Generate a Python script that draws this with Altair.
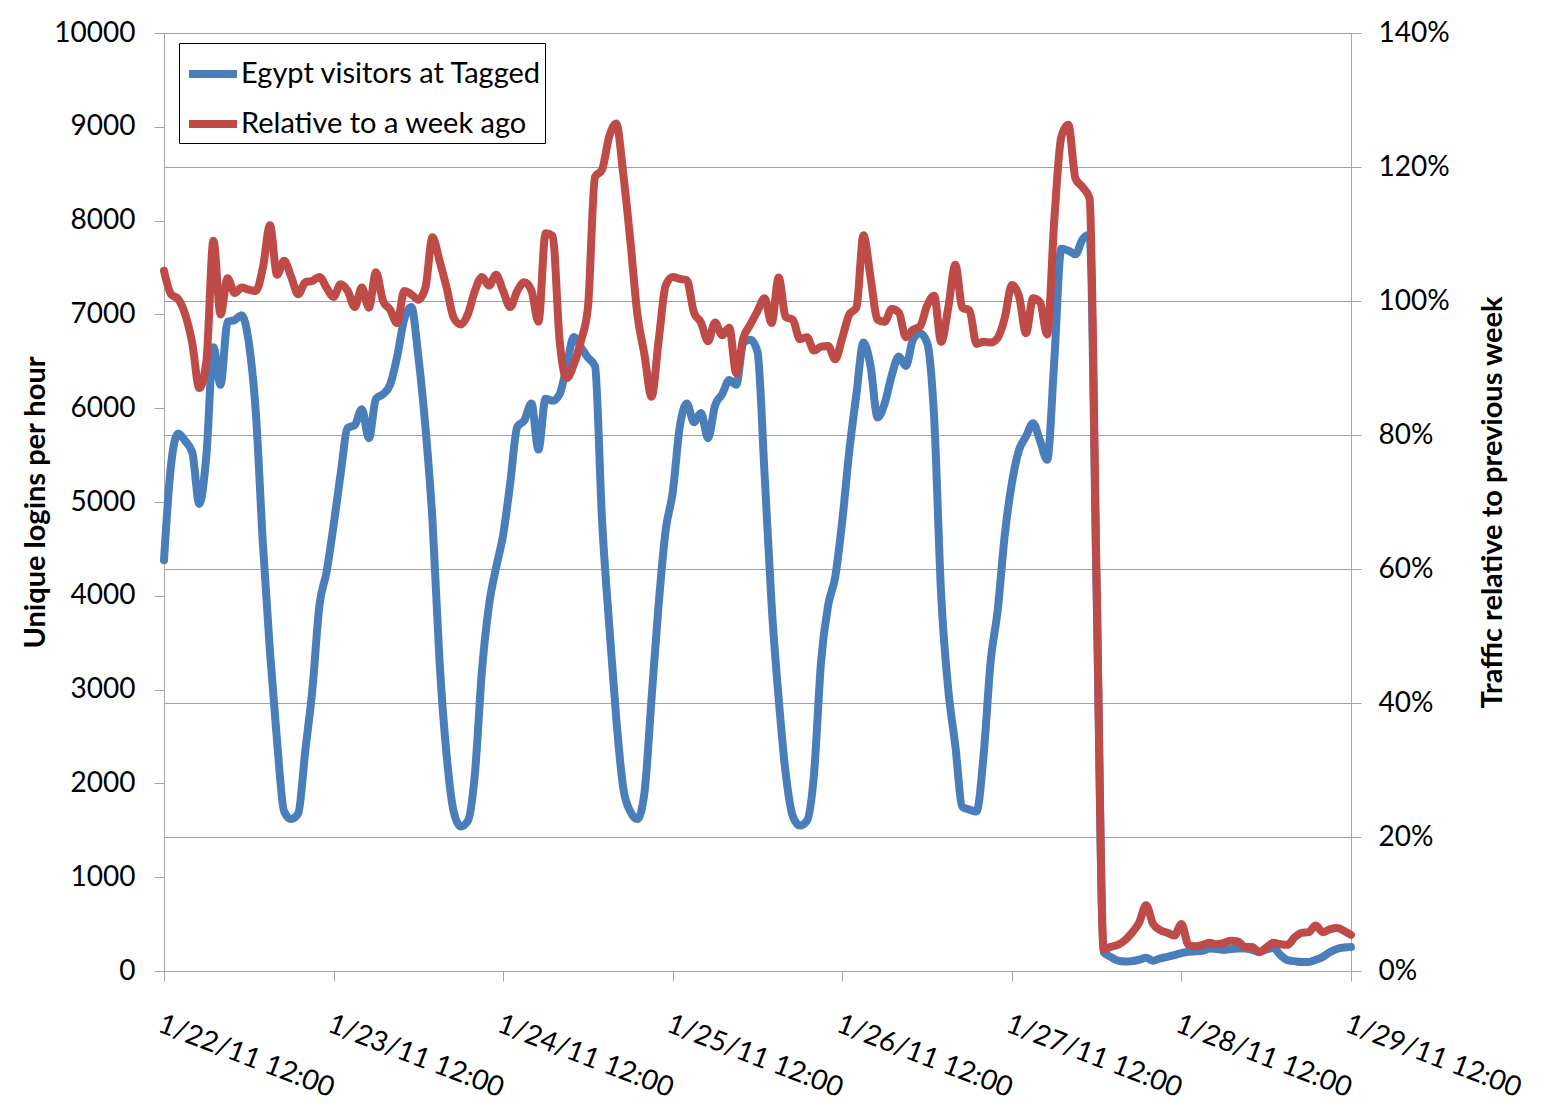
import altair as alt
import pandas as pd

# ---- data (hourly, 1/22/11 12:00 .. 1/29/11 12:00) ----
start_time = "2011-01-22 12:00"
series_names = ["Egypt visitors at Tagged", "Relative to a week ago"]
series_colors = ["#4A7EBB", "#BE4B48"]
tick_days = [22, 23, 24, 25, 26, 27, 28, 29]
left_ticks = [0, 1000, 2000, 3000, 4000, 5000, 6000, 7000, 8000, 9000, 10000]
right_ticks = [0, 20, 40, 60, 80, 100, 120, 140]

# unique logins per hour (left axis)
blue = [
    4380, 5400, 5730, 5650, 5530, 4980, 5500, 6650, 6250, 6920,
    6940, 6990, 6700, 5950, 4550, 3400, 2450, 1700, 1620, 1680,
    2350, 3000, 3900, 4250, 4750, 5300, 5790, 5820, 5990, 5680,
    6100, 6150, 6250, 6550, 6950, 7080, 6550, 5800, 4800, 3300,
    2300, 1700, 1540, 1600, 2100, 3200, 3900, 4300, 4650, 5200,
    5800, 5870, 6050, 5560, 6100, 6080, 6150, 6450, 6760, 6650,
    6540, 6450, 4800, 3700, 2700, 1950, 1700, 1620, 1900, 2900,
    3900, 4700, 5100, 5800, 6050, 5850, 5950, 5680, 6030, 6150,
    6300, 6250, 6700, 6730, 6600, 5300, 3900, 2900, 2100, 1650,
    1550, 1600, 2100, 3300, 3900, 4200, 4800, 5550, 6150, 6700,
    6450, 5900, 6050, 6350, 6550, 6450, 6730, 6800, 6700, 5900,
    4000, 3000, 2400, 1750, 1720, 1700, 2300, 3300, 3850, 4650,
    5200, 5550, 5700, 5840, 5650, 5450, 6500, 7700, 7680, 7640,
    7800, 7850, 4000, 200, 150, 110, 100, 105, 120, 140,
    110, 135, 150, 170, 190, 205, 210, 215, 240, 235,
    225, 235, 240, 240, 225, 205, 230, 245, 170, 115,
    105, 95, 95, 120, 150, 200, 235, 250, 255,
]

# traffic relative to previous week, in percent (right axis)
red = [
    104.5, 101, 100.3, 98, 93.7, 87, 91, 109, 98, 103.4,
    101.2, 102, 101.7, 101.5, 105, 111.3, 103.9, 106, 103.6, 101,
    102.8, 103, 103.6, 102, 100.6, 102.5, 101.5, 99.1, 102, 99,
    104.3, 100, 98.7, 96.7, 101.5, 101, 100.2, 102, 109.5, 106,
    102, 97.5, 96.5, 98, 101.5, 103.6, 102.3, 103.9, 101.5, 99.1,
    101.5, 102.8, 101.6, 96.9, 110.1, 109.7, 94, 88.5, 90.5, 94,
    99, 118.5, 119.6, 124.5, 126.5, 119, 109, 98, 92, 85.7,
    94, 102.3, 103.6, 103.3, 103.1, 98.3, 96.8, 94, 96.8, 94.9,
    96, 89.2, 94.5, 96.5, 98.5, 100.4, 96.7, 103.5, 97.6, 97.2,
    94.3, 94.6, 92.6, 93.2, 93.3, 91.3, 94.5, 98, 99, 109.8,
    103.5, 97.2, 96.9, 98.8, 98.3, 94.6, 95.7, 96.2, 99.3, 100.8,
    93.9, 99, 105.4, 99, 98.6, 93.6, 93.9, 93.8, 94.5, 97.5,
    102.4, 100.8, 95.2, 100.4, 99.8, 95, 112, 124.5, 126.3, 118.3,
    117, 115.3, 58, 3.2, 3.6, 3.9, 4.6, 5.7, 7.2, 9.8,
    7, 6.1, 5.7, 5.3, 7, 3.9, 3.7, 3.9, 4.2, 4,
    4.2, 4.5, 4.4, 3.6, 3.6, 2.8, 3.5, 4.2, 4, 3.9,
    5, 5.7, 5.8, 6.8, 5.8, 6.2, 6.4, 6, 5.4,
]

times = pd.date_range(start_time, periods=len(blue), freq="h")
time_str = [t.strftime("%Y-%m-%dT%H:%M:%SZ") for t in times]

df = pd.DataFrame({
    "time": time_str + time_str,
    "series": [series_names[0]] * len(blue) + [series_names[1]] * len(red),
    "value": blue + red,
})

FONT = "Lato"
AXIS_GRAY = "#a6a6a6"
GRID_GRAY = "#a0a0a0"
TICK_FS = 28
TITLE_FS = 29


def dt(day):
    return alt.DateTime(year=2011, month=1, date=day, hours=12, utc=True)


x_enc = alt.X(
    "time:T",
    scale=alt.Scale(type="utc", domain=[dt(tick_days[0]), dt(tick_days[-1])], nice=False),
    axis=alt.Axis(
        title=None,
        values=[dt(d) for d in tick_days],
        format="%-m/%-d/%y %H:%M",
        labelAngle=21,
        labelAlign="left",
        labelBaseline="top",
        labelFlush=False,
        labelOverlap=False,
        labelLimit=500,
        labelPadding=29,
        labelFontSize=TICK_FS,
        tickSize=10,
        tickColor=AXIS_GRAY,
        domainColor=AXIS_GRAY,
        grid=False,
    ),
)

color_enc = alt.Color(
    "series:N",
    scale=alt.Scale(domain=series_names, range=series_colors),
    legend=alt.Legend(
        title=None,
        orient="none",
        legendX=15,
        legendY=10,
        symbolType="stroke",
        symbolSize=2304,
        symbolStrokeWidth=8,
        symbolOffset=3,
        labelFontSize=29,
        labelFont=FONT,
        labelColor="black",
        labelOffset=0,
        labelLimit=600,
        labelExpr="datum.label + '\u00a0\u00a0'",
        strokeColor="black",
        fillColor="white",
        padding=3,
        rowPadding=6,
    ),
)

base = alt.Chart(df).encode(x=x_enc, color=color_enc)

line_kw = dict(strokeWidth=8, interpolate="monotone", strokeCap="round", strokeJoin="round")

blue_layer = base.transform_filter(
    alt.datum.series == series_names[0]
).mark_line(**line_kw).encode(
    y=alt.Y(
        "value:Q",
        scale=alt.Scale(domain=[left_ticks[0], left_ticks[-1]], nice=False),
        axis=alt.Axis(
            title="Unique logins per hour",
            values=left_ticks,
            format="d",
            grid=False,
            tickSize=10,
            tickColor=AXIS_GRAY,
            domainColor=AXIS_GRAY,
            labelFontSize=TICK_FS,
            labelPadding=19,
            titleFontSize=TITLE_FS,
            titleFontWeight="bold",
            titlePadding=3,
        ),
    )
)

red_layer = base.transform_filter(
    alt.datum.series == series_names[1]
).mark_line(**line_kw).encode(
    y=alt.Y(
        "value:Q",
        scale=alt.Scale(domain=[right_ticks[0], right_ticks[-1]], nice=False),
        axis=alt.Axis(
            title="Traffic relative to previous week",
            orient="right",
            values=right_ticks,
            labelExpr="datum.value + '%'",
            grid=True,
            gridColor=GRID_GRAY,
            gridWidth=1,
            tickSize=10,
            tickColor=AXIS_GRAY,
            domainColor=AXIS_GRAY,
            labelFontSize=TICK_FS,
            labelPadding=17,
            titleFontSize=TITLE_FS,
            titleFontWeight="bold",
            titleAngle=270,
            titleBaseline="top",
            titlePadding=29,
        ),
    )
)

chart = alt.layer(blue_layer, red_layer).resolve_scale(
    y="independent"
).properties(
    width=1187,
    height=938,
    padding={"left": 13, "top": 11, "right": 5, "bottom": 5},
    background="white",
).configure_view(
    stroke=None
).configure_axis(
    labelFont=FONT,
    titleFont=FONT,
    labelColor="black",
    titleColor="black",
)

chart.save("out.html", embed_options={"renderer": "svg", "actions": False})
